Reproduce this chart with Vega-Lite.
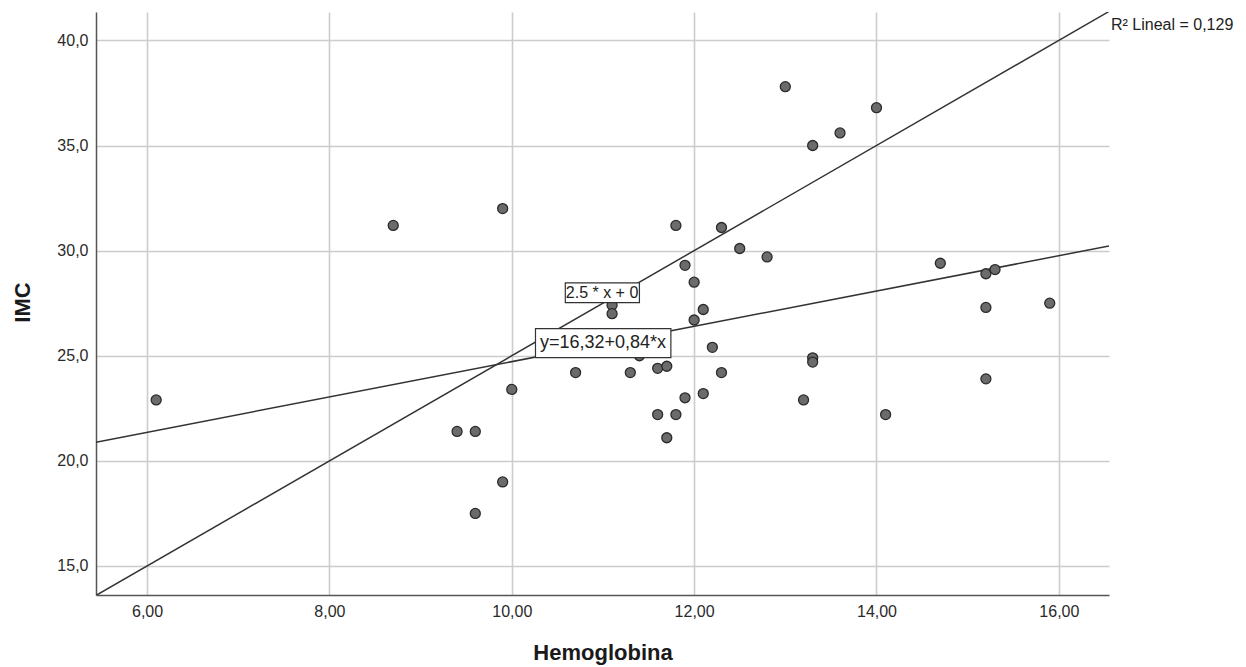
{
  "$schema": "https://vega.github.io/schema/vega-lite/v6.json",
  "autosize": {"type": "none"},
  "padding": {"left": 96, "top": 12, "right": 137, "bottom": 72},
  "width": 1013,
  "height": 583,
  "background": "white",
  "config": {
    "view": {"stroke": null},
    "font": "Liberation Sans",
    "axis": {
      "domainColor": "#555555",
      "domainWidth": 1.5,
      "ticks": false,
      "tickSize": 0,
      "gridColor": "#cccccc",
      "gridWidth": 1.6,
      "labelFont": "Liberation Sans",
      "labelFontSize": 16,
      "labelColor": "#2a2a2a",
      "titleFont": "Liberation Sans",
      "titleFontSize": 22,
      "titleFontWeight": "bold",
      "titleColor": "#1a1a1a"
    }
  },
  "datasets": {
    "puntos": [
      {"Hemoglobina": 6.1, "IMC": 22.9},
      {"Hemoglobina": 8.7, "IMC": 31.2},
      {"Hemoglobina": 9.4, "IMC": 21.4},
      {"Hemoglobina": 9.6, "IMC": 21.4},
      {"Hemoglobina": 9.6, "IMC": 17.5},
      {"Hemoglobina": 9.9, "IMC": 32.0},
      {"Hemoglobina": 9.9, "IMC": 19.0},
      {"Hemoglobina": 10.0, "IMC": 23.4},
      {"Hemoglobina": 10.7, "IMC": 24.2},
      {"Hemoglobina": 11.1, "IMC": 27.4},
      {"Hemoglobina": 11.1, "IMC": 27.0},
      {"Hemoglobina": 11.3, "IMC": 24.2},
      {"Hemoglobina": 11.4, "IMC": 25.0},
      {"Hemoglobina": 11.6, "IMC": 24.4},
      {"Hemoglobina": 11.7, "IMC": 24.5},
      {"Hemoglobina": 11.6, "IMC": 22.2},
      {"Hemoglobina": 11.8, "IMC": 22.2},
      {"Hemoglobina": 11.7, "IMC": 21.1},
      {"Hemoglobina": 11.8, "IMC": 31.2},
      {"Hemoglobina": 11.9, "IMC": 29.3},
      {"Hemoglobina": 11.9, "IMC": 23.0},
      {"Hemoglobina": 12.0, "IMC": 28.5},
      {"Hemoglobina": 12.0, "IMC": 26.7},
      {"Hemoglobina": 12.1, "IMC": 27.2},
      {"Hemoglobina": 12.1, "IMC": 23.2},
      {"Hemoglobina": 12.2, "IMC": 25.4},
      {"Hemoglobina": 12.3, "IMC": 31.1},
      {"Hemoglobina": 12.3, "IMC": 24.2},
      {"Hemoglobina": 12.5, "IMC": 30.1},
      {"Hemoglobina": 12.8, "IMC": 29.7},
      {"Hemoglobina": 13.0, "IMC": 37.8},
      {"Hemoglobina": 13.2, "IMC": 22.9},
      {"Hemoglobina": 13.3, "IMC": 35.0},
      {"Hemoglobina": 13.3, "IMC": 24.9},
      {"Hemoglobina": 13.3, "IMC": 24.7},
      {"Hemoglobina": 13.6, "IMC": 35.6},
      {"Hemoglobina": 14.0, "IMC": 36.8},
      {"Hemoglobina": 14.1, "IMC": 22.2},
      {"Hemoglobina": 14.7, "IMC": 29.4},
      {"Hemoglobina": 15.2, "IMC": 28.9},
      {"Hemoglobina": 15.3, "IMC": 29.1},
      {"Hemoglobina": 15.2, "IMC": 27.3},
      {"Hemoglobina": 15.2, "IMC": 23.9},
      {"Hemoglobina": 15.9, "IMC": 27.5}
    ],
    "rectas": [
      {"recta": "referencia", "Hemoglobina": 5.44, "IMC": 13.6},
      {"recta": "referencia", "Hemoglobina": 16.55, "IMC": 41.375},
      {"recta": "ajuste", "Hemoglobina": 5.44, "IMC": 20.89},
      {"recta": "ajuste", "Hemoglobina": 16.55, "IMC": 30.22}
    ]
  },
  "layer": [
    {
      "data": {"name": "rectas"},
      "mark": {"type": "line", "color": "#333333", "strokeWidth": 1.5, "clip": true},
      "encoding": {
        "x": {
          "field": "Hemoglobina",
          "type": "quantitative",
          "scale": {"domain": [5.44, 16.55], "nice": false, "zero": false},
          "axis": {
            "title": "Hemoglobina",
            "values": [6, 8, 10, 12, 14, 16],
            "labelExpr": "replace(format(datum.value, '.2f'), '.', ',')",
            "labelPadding": 8,
            "titleY": 57,
            "titleBaseline": "middle"
          }
        },
        "y": {
          "field": "IMC",
          "type": "quantitative",
          "scale": {"domain": [13.62, 41.35], "nice": false, "zero": false},
          "axis": {
            "title": "IMC",
            "values": [15, 20, 25, 30, 35, 40],
            "labelExpr": "replace(format(datum.value, '.1f'), '.', ',')",
            "labelPadding": 8,
            "titleX": -74,
            "titleY": 290,
            "titleAlign": "center",
            "titleBaseline": "middle"
          }
        },
        "detail": {"field": "recta", "type": "nominal"}
      }
    },
    {
      "data": {"name": "puntos"},
      "mark": {"type": "point", "shape": "circle", "filled": true, "fill": "#6b6b6b", "stroke": "#2b2b2b", "strokeWidth": 1.3, "opacity": 1, "size": 100},
      "encoding": {
        "x": {"field": "Hemoglobina", "type": "quantitative"},
        "y": {"field": "IMC", "type": "quantitative"}
      }
    },
    {
      "data": {"values": [{}]},
      "mark": {"type": "rect", "fill": "white", "stroke": "#333333", "strokeWidth": 1.2},
      "encoding": {
        "x": {"datum": 10.587, "type": "quantitative"},
        "x2": {"datum": 11.40},
        "y": {"datum": 28.47, "type": "quantitative"},
        "y2": {"datum": 27.53}
      }
    },
    {
      "data": {"values": [{}]},
      "mark": {"type": "text", "text": "2.5 * x + 0", "fontSize": 16, "color": "#222222", "align": "center", "baseline": "middle"},
      "encoding": {
        "x": {"datum": 10.99, "type": "quantitative"},
        "y": {"datum": 28.0, "type": "quantitative"}
      }
    },
    {
      "data": {"values": [{}]},
      "mark": {"type": "rect", "fill": "white", "stroke": "#333333", "strokeWidth": 1.2},
      "encoding": {
        "x": {"datum": 10.26, "type": "quantitative"},
        "x2": {"datum": 11.745},
        "y": {"datum": 26.29, "type": "quantitative"},
        "y2": {"datum": 24.91}
      }
    },
    {
      "data": {"values": [{}]},
      "mark": {"type": "text", "text": "y=16,32+0,84*x", "fontSize": 18, "color": "#222222", "align": "center", "baseline": "middle"},
      "encoding": {
        "x": {"datum": 11.0, "type": "quantitative"},
        "y": {"datum": 25.6, "type": "quantitative"}
      }
    },
    {
      "data": {"values": [{}]},
      "mark": {"type": "text", "text": "R² Lineal = 0,129", "fontSize": 16, "color": "#222222", "align": "left", "baseline": "middle", "dx": 2},
      "encoding": {
        "x": {"datum": 16.55, "type": "quantitative"},
        "y": {"datum": 40.75, "type": "quantitative"}
      }
    }
  ]
}
